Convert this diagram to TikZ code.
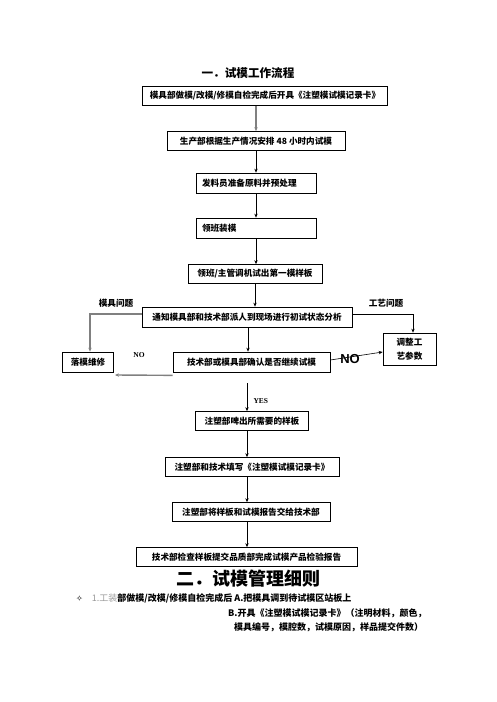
\documentclass[tikz,border=0pt]{standalone}
\usepackage{fontspec}
\setmainfont{Noto Sans CJK SC}
\newfontfamily\symfont{DejaVu Sans}
\newfontfamily\latinsans{Liberation Sans}
\newfontfamily\latinserif{Liberation Serif}
\usepackage{tikz}
\usetikzlibrary{arrows.meta, calc}

\begin{document}
\begin{tikzpicture}[
  x=1pt, y=-1pt,
  >={Stealth[length=4pt, width=3.4pt]},
  stepbox/.style={draw, line width=0.7pt, minimum height=19pt, inner sep=2pt,
    align=center, font=\bfseries\fontsize{8.6}{11}\selectfont},
  arr/.style={->, line width=0.6pt, black},
  grayarr/.style={->, line width=1.4pt, black!50},
  sidelabel/.style={font=\bfseries\fontsize{8.6}{10}\selectfont},
]

\useasboundingbox (0,0) rectangle (496,702);

% --- Titles ---
\node[font=\bfseries\fontsize{11.6}{13}\selectfont] (title) at (248,73)
  {一．试模工作流程};

% --- Main flow, upper part ---
\node[stepbox, minimum width=245pt] (mark) at (265,96)
  {模具部做模/改模/修模自检完成后开具《注塑模试模记录卡》};
\node[stepbox, minimum width=178pt] (plan) at (256,141)
  {生产部根据生产情况安排 48 小时内试模};
\node[stepbox, minimum height=20pt, text width=108pt, inner xsep=6pt,
  align=left] (prep) at (256,183) {发料员准备原料并预处理};
\node[stepbox, minimum height=20pt, text width=108pt, inner xsep=6pt,
  align=left] (mount) at (256,228) {领班装模};
\node[stepbox, minimum width=134pt] (first) at (255,274)
  {领班/主管调机试出第一模样板};
\node[stepbox, minimum width=210pt, minimum height=20pt] (notify) at (247,317)
  {通知模具部和技术部派人到现场进行初试状态分析};

% --- Branches ---
\node[stepbox, minimum width=51pt, minimum height=20pt] (repair) at (88,362)
  {落模维修};
\node[stepbox, minimum width=157pt, minimum height=20pt] (check) at (251.5,362)
  {技术部或模具部确认是否继续试模};
\node[stepbox, minimum width=53pt, minimum height=32pt,
  font=\bfseries\fontsize{8.6}{14}\selectfont] (adjust) at (409.5,349)
  {调整工\\艺参数};
\coordinate (noend) at (115,375);
\coordinate (ax) at (247,0);

% --- Main flow, lower part ---
\node[stepbox, minimum width=113pt] (shoot) at (252,421)
  {注塑部啤出所需要的样板};
\node[stepbox, minimum width=174pt] (fill) at (252,467)
  {注塑部和技术填写《注塑模试模记录卡》};
\node[stepbox, minimum width=158pt] (hand) at (251,512)
  {注塑部将样板和试模报告交给技术部};
\node[stepbox, minimum width=221pt] (report) at (246.5,557)
  {技术部检查样板提交品质部完成试模产品检验报告};

% --- Arrows ---
\draw[grayarr] (mark.south -| plan.north) -- (plan.north);
\draw[arr] (plan.south) -- (prep.north);
\draw[arr] (prep.south) -- (mount.north);
\draw[arr] (mount.south) -- (mount.south |- first.north);
\draw[arr] (first.south) -- (first.south |- notify.north);
\draw[arr] ([xshift=1pt]notify.south) -- ([xshift=1pt]notify.south |- check.north);
\draw[grayarr] ([yshift=3pt]notify.west) -| ([xshift=2pt]repair.north);
\draw[arr] ([yshift=3pt]notify.east) -| ([xshift=3.5pt]adjust.north);
\draw[arr] ([yshift=2pt]check.east) -- ([yshift=-3pt]adjust.west);
\draw[grayarr] ([yshift=-3pt]check.south west) -- (noend);
\draw[arr] ($(check.south -| ax)+(0,11)$) -- (shoot.north -| ax);
\draw[arr] (shoot.south -| ax) -- (fill.north -| ax);
\draw[arr] (fill.south -| ax) -- (hand.north -| ax);
\draw[arr] (hand.south -| ax) -- (report.north -| ax);

% --- Labels ---
\node[sidelabel] (moldissue) at (116,303) {模具问题};
\node[sidelabel] (procissue) at (386,303) {工艺问题};
\node[font=\latinserif\bfseries\fontsize{7.5}{9}\selectfont] (nosmall) at (139,355) {NO};
\node[font=\latinsans\bfseries\fontsize{13}{14}\selectfont] (nobig) at (350,359) {NO};
\node[font=\latinserif\bfseries\fontsize{7.5}{9}\selectfont, anchor=west] (yes) at (250,401) {YES};

% --- Rules section ---
\node[font=\bfseries\fontsize{18}{20}\selectfont] (title2) at (248,579)
  {二．试模管理细则};
\node[anchor=west, inner sep=0pt, font=\bfseries\fontsize{9}{11}\selectfont] (rule1) at (76,598)
  {{\symfont\mdseries\fontsize{8}{10}\selectfont ✧}\hspace{9pt}{\mdseries\color{gray!80}1.工装}部做模/改模/修模自检完成后 A.把模具调到待试模区站板上};
\node[anchor=west, inner sep=0pt, font=\bfseries\fontsize{9}{11}\selectfont] (rule2) at (228,613)
  {B.开具《注塑模试模记录卡》（注明材料，颜色，};
\node[anchor=west, inner sep=0pt, font=\bfseries\fontsize{9}{11}\selectfont] (rule3) at (234,627)
  {模具编号，模腔数，试模原因，样品提交件数）};

\end{tikzpicture}
\end{document}
